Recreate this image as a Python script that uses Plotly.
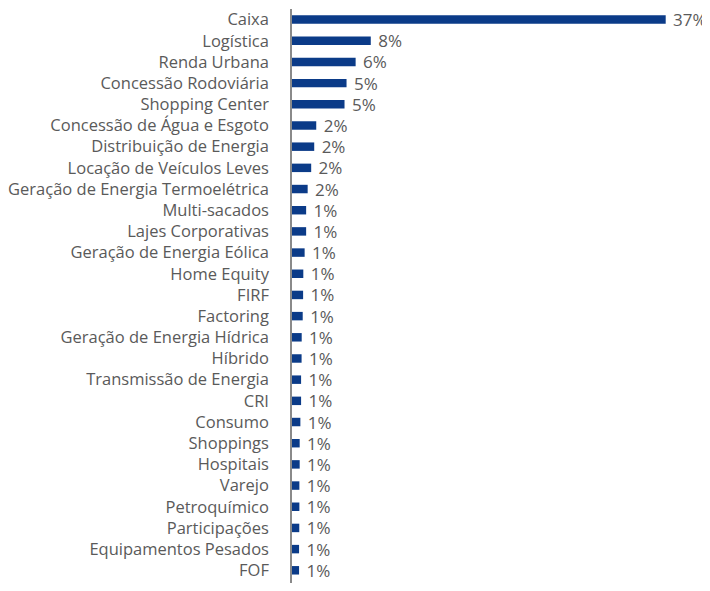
import plotly.graph_objects as go

categories = [
    "Caixa", "Logística", "Renda Urbana", "Concessão Rodoviária", "Shopping Center",
    "Concessão de Água e Esgoto", "Distribuição de Energia", "Locação de Veículos Leves",
    "Geração de Energia Termoelétrica", "Multi-sacados", "Lajes Corporativas",
    "Geração de Energia Eólica", "Home Equity", "FIRF", "Factoring",
    "Geração de Energia Hídrica", "Híbrido", "Transmissão de Energia", "CRI",
    "Consumo", "Shoppings", "Hospitais", "Varejo", "Petroquímico",
    "Participações", "Equipamentos Pesados", "FOF",
]
values = [
    37.0, 7.8, 6.3, 5.4, 5.2,
    2.4, 2.2, 1.9, 1.55, 1.4, 1.4,
    1.25, 1.12, 1.1, 1.06,
    0.96, 0.95, 0.9, 0.9,
    0.83, 0.76, 0.76, 0.73, 0.73,
    0.72, 0.7, 0.7,
]

BAR = "#0b3b88"
GRAY = "#5a5a5a"
FONT = "'Open Sans', Lato, sans-serif"

fig = go.Figure(go.Bar(
    x=values, y=categories, orientation="h",
    marker=dict(color=BAR, line=dict(width=0)),
    texttemplate="\u00a0%{x:.0f}%",
    textposition="outside", constraintext="none", cliponaxis=False,
    textfont=dict(size=17, color=GRAY, family=FONT),
    hoverinfo="skip",
))

fig.update_layout(
    width=702, height=575,
    margin=dict(l=284, r=14, t=1, b=0),
    paper_bgcolor="white", plot_bgcolor="white",
    showlegend=False, bargap=0.6,
    font=dict(family=FONT, color=GRAY),
)
fig.update_xaxes(range=[0, 40.0], visible=False, showgrid=False, zeroline=False)
fig.update_yaxes(
    type="category", categoryorder="array", categoryarray=categories,
    range=[26.6, -0.5], autorange=False,
    showline=True, linecolor="#8a8a8a", linewidth=1.5,
    showgrid=False, zeroline=False, ticks="",
    ticklabelstandoff=18,
    tickfont=dict(size=16.5, color=GRAY, family=FONT),
)

fig.write_html("out.html")
